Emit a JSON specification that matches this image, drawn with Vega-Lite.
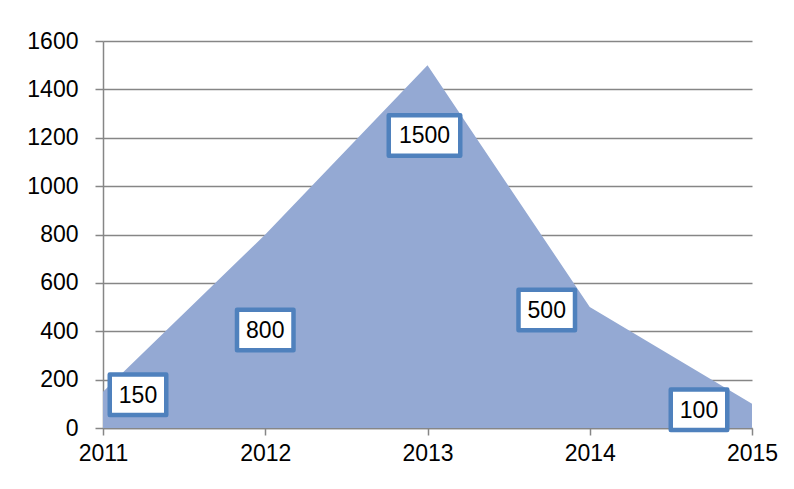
{
  "$schema": "https://vega.github.io/schema/vega-lite/v6.json",
  "width": 649,
  "height": 387,
  "autosize": {"type": "none"},
  "padding": {"left": 103, "top": 41, "right": 42, "bottom": 61},
  "background": "white",
  "config": {
    "view": {"stroke": null},
    "font": "Liberation Sans"
  },
  "data": {"values": [
    {"year": 2011, "value": 150},
    {"year": 2012, "value": 800},
    {"year": 2013, "value": 1500},
    {"year": 2014, "value": 500},
    {"year": 2015, "value": 100}
  ]},
  "encoding": {
    "x": {"field": "year", "type": "ordinal", "scale": {"type": "point", "padding": 0},
      "axis": {"title": null, "labelAngle": 0, "labelFont": "Liberation Sans", "labelFontSize": 23, "labelColor": "#000000", "domainColor": "#868686", "domainWidth": 1.5, "tickColor": "#868686", "tickWidth": 1.5, "tickSize": 7, "labelPadding": 7, "grid": false}},
    "y": {"field": "value", "type": "quantitative", "scale": {"domain": [0, 1600], "nice": false},
      "axis": {"title": null, "format": "d", "values": [0, 200, 400, 600, 800, 1000, 1200, 1400, 1600], "labelFont": "Liberation Sans", "labelFontSize": 23, "labelColor": "#000000", "domainColor": "#868686", "domainWidth": 1.5, "tickColor": "#868686", "tickWidth": 1.5, "tickSize": 8, "labelPadding": 17, "grid": true, "gridColor": "#868686", "gridWidth": 1.5}}
  },
  "layer": [
    {"mark": {"type": "area", "color": "#94A9D3", "opacity": 1}},
    {
      "encoding": {
        "xOffset": {"field": "year", "type": "quantitative", "scale": {"type": "linear", "zero": false, "nice": false, "domain": [2011, 2012, 2013, 2014, 2015], "range": [35, 0, -3, -43, -53]}}
      },
      "layer": [
        {"mark": {"type": "point", "size": 1600, "filled": true, "fill": "white", "stroke": "#4F81BD", "strokeWidth": 4.5, "strokeJoin": "round", "opacity": 1},
         "encoding": {"shape": {"field": "year", "type": "nominal", "legend": null, "scale": {"domain": [2011, 2012, 2013, 2014, 2015], "range": [
           "M-1.4125,-0.8625H1.4125V1.1625H-1.4125Z",
           "M-1.4125,3.7625H1.4125V5.7875H-1.4125Z",
           "M-1.7875,2.5H1.7875V4.525H-1.7875Z",
           "M-1.4125,-0.8625H1.4125V1.1625H-1.4125Z",
           "M-1.4125,-0.7125H1.4125V1.3125H-1.4125Z"
         ]}}}},
        {"mark": {"type": "text", "fontSize": 23, "font": "Liberation Sans", "color": "black", "align": "center", "baseline": "middle",
                  "dy": {"expr": "datum.year == 2011 ? 4 : datum.year == 2012 ? 96.5 : datum.year == 2013 ? 71 : datum.year == 2014 ? 4 : 7"}},
         "encoding": {"text": {"field": "value", "type": "quantitative", "format": "d"}}}
      ]
    }
  ]
}
